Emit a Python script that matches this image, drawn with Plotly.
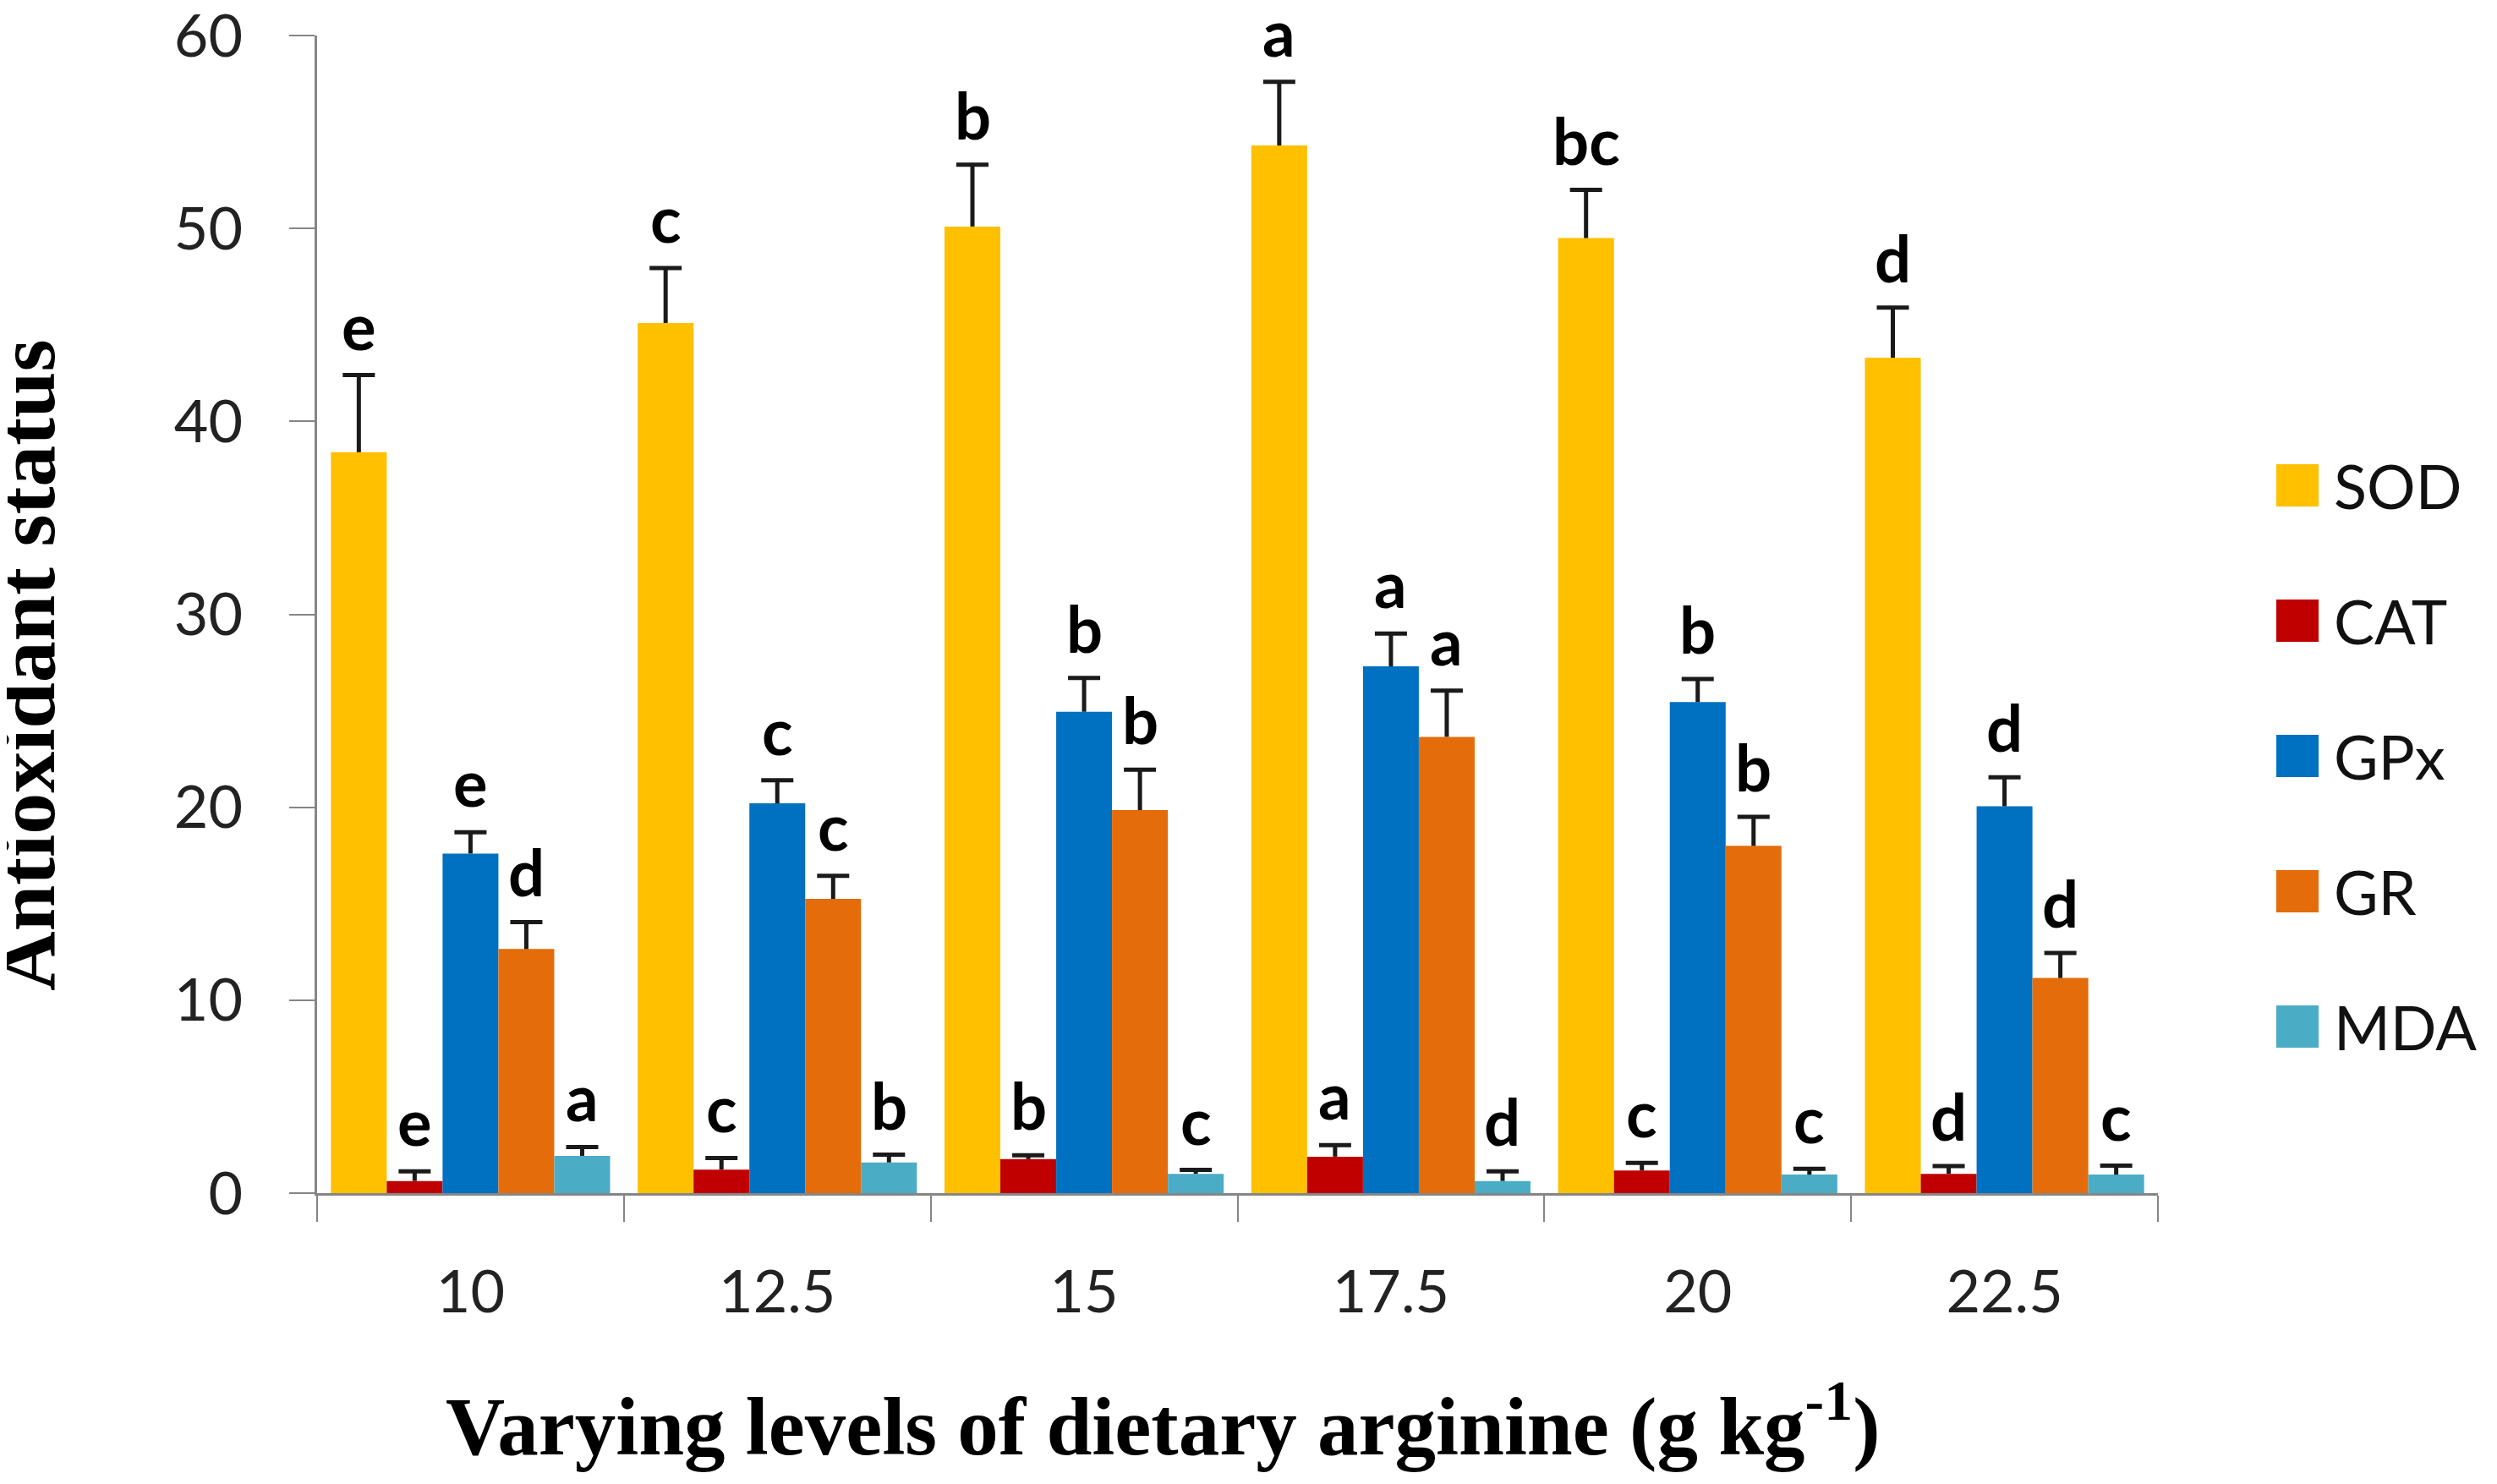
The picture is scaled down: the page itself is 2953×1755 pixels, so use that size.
import plotly.graph_objects as go

# arginine levels (g/kg)
levels = ["10", "12.5", "15", "17.5", "20", "22.5"]

series_names = ["SOD", "CAT", "GPx", "GR", "MDA"]
series_colors = ["#FFC000", "#C00000", "#0070C0", "#E46C0A", "#4BACC6"]

sod = [38.4, 45.1, 50.1, 54.3, 49.5, 43.3]
cat = [0.63, 1.22, 1.76, 1.89, 1.17, 1.0]
gpx = [17.6, 20.2, 24.95, 27.3, 25.45, 20.05]
gr = [12.65, 15.25, 19.85, 23.65, 18.0, 11.15]
mda = [1.93, 1.59, 1.0, 0.63, 0.96, 0.96]

sod_err = [4.0, 2.85, 3.2, 3.3, 2.5, 2.6]
cat_err = [0.5, 0.6, 0.2, 0.6, 0.4, 0.4]
gpx_err = [1.1, 1.2, 1.75, 1.7, 1.2, 1.5]
gr_err = [1.4, 1.2, 2.1, 2.4, 1.5, 1.3]
mda_err = [0.46, 0.4, 0.2, 0.5, 0.3, 0.46]

sod_lab = ["e", "c", "b", "a", "bc", "d"]
cat_lab = ["e", "c", "b", "a", "c", "d"]
gpx_lab = ["e", "c", "b", "a", "b", "d"]
gr_lab = ["d", "c", "b", "a", "b", "d"]
mda_lab = ["a", "b", "c", "d", "c", "c"]

values = [sod, cat, gpx, gr, mda]
errors = [sod_err, cat_err, gpx_err, gr_err, mda_err]
labels = [sod_lab, cat_lab, gpx_lab, gr_lab, mda_lab]

# page is 2953x1755, body has an 8px margin
PAD = 8
W, H = 2953 - 2 * PAD, 1755 - 2 * PAD
# plot area on the page: x 375..2552, y 42..1411
ML, MT = 375 - PAD, 42 - PAD
MR, MB = W - (2552 - PAD), H - (1411 - PAD)
pw = W - ML - MR
ph = H - MT - MB


def fx(xpage):
    return (xpage - PAD - ML) / pw


def fy(ypage):
    return (H - MB - (ypage - PAD)) / ph


bargap = 0.09
sans = "Lato"
serif = "Liberation Serif"
axcol = "#868686"
xpos = list(range(len(levels)))
bw = (1 - bargap) / len(series_names)
cap = 19 / (pw / len(levels))  # half width of the error bar cap, in x units

fig = go.Figure()
for name, col, v in zip(series_names, series_colors, values):
    fig.add_trace(go.Bar(
        x=xpos, y=v, name=name, showlegend=False,
        marker=dict(color=col, line=dict(width=0)),
    ))

# upper error bars (stem + cap only) and significance letters
annots = []
ex, ey = [], []
for i, (v, e, lab) in enumerate(zip(values, errors, labels)):
    off = (i - (len(series_names) - 1) / 2) * bw
    for g in xpos:
        xc = g + off
        top = v[g] + e[g]
        ex += [xc, xc, None, xc - cap, xc + cap, None]
        ey += [v[g], top, None, top, top, None]
        annots.append(dict(
            x=xc, y=top, xref="x", yref="y", text="<b>%s</b>" % lab[g],
            showarrow=False, xanchor="center", yanchor="bottom", yshift=12,
            font=dict(family=sans, size=76, color="#000000"),
        ))
fig.add_trace(go.Scatter(
    x=ex, y=ey, mode="lines", showlegend=False, hoverinfo="skip",
    line=dict(color="#1a1a1a", width=5),
))

# axis titles
annots.append(dict(
    x=fx(31), y=fy(787), xref="paper", yref="paper", xanchor="center", yanchor="middle",
    text="<b>Antioxidant status</b>", textangle=-90, showarrow=False,
    font=dict(family=serif, size=98, color="#000000"),
))
annots.append(dict(
    x=fx(1375), y=fy(1679), xref="paper", yref="paper", xanchor="center", yanchor="middle",
    text="<b>Varying levels of dietary arginine (g kg<sup>-1</sup>)</b>", showarrow=False,
    font=dict(family=serif, size=97, color="#000000"),
))

# legend drawn by hand so the swatches can be large
shapes = []
for k, (name, col) in enumerate(zip(series_names, series_colors)):
    cy = 574 + k * 160
    shapes.append(dict(
        type="rect", xref="paper", yref="paper",
        x0=fx(2692), x1=fx(2742), y0=fy(cy + 25), y1=fy(cy - 25),
        fillcolor=col, line=dict(width=0),
    ))
    annots.append(dict(
        x=fx(2758), y=fy(cy), xref="paper", yref="paper",
        text=name, showarrow=False, xanchor="left", yanchor="middle",
        font=dict(family=sans, size=72, color="#111111"),
    ))

fig.update_layout(
    width=W, height=H,
    margin=dict(l=ML, r=MR, t=MT, b=MB),
    barmode="group", bargap=bargap, bargroupgap=0,
    plot_bgcolor="white", paper_bgcolor="white",
    annotations=annots, shapes=shapes,
    font=dict(family=sans, size=72, color="#222222"),
)
fig.update_xaxes(
    range=[-0.5, len(levels) - 0.5], tickvals=xpos, ticktext=levels, ticks="",
    minor=dict(tick0=-0.5, dtick=1, ticks="outside", ticklen=31, tickwidth=2, tickcolor=axcol),
    showline=True, linecolor=axcol, linewidth=3, showgrid=False, zeroline=False,
    automargin=False, ticklabelstandoff=54,
    tickfont=dict(family=sans, size=70, color="#222222"),
)
fig.update_yaxes(
    range=[0, 60], dtick=10, ticks="outside", ticklen=30, tickwidth=2,
    tickcolor=axcol, showline=True, linecolor=axcol, linewidth=3, showgrid=False,
    zeroline=False, automargin=False, ticklabelstandoff=41, ticklabeloverflow="allow",
    tickfont=dict(family=sans, size=70, color="#222222"),
)

fig.write_html("out.html")
